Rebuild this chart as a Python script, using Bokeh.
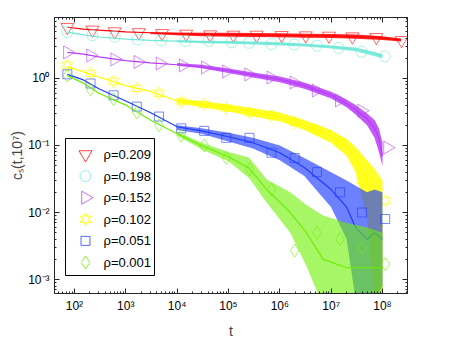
import math
from bokeh.plotting import figure
from bokeh.models import (FixedTicker, LogAxis, CustomJSTickFormatter, Range1d, ColumnDataSource)
from bokeh.core.properties import value
from bokeh.embed import file_html
from bokeh.resources import INLINE

# ---------------- data ----------------
labels = ["ρ=0.209", "ρ=0.198", "ρ=0.152", "ρ=0.102", "ρ=0.051", "ρ=0.001"]

# smooth trend of each curve
t_red = [73, 150, 300, 1e3, 3e3, 1e4, 3e4, 1e5, 3e5, 1e6, 3e6, 1e7, 2e7, 3e7, 5e7, 7e7, 1e8, 1.5e8, 2.3e8]
c_red = [5.8, 5.45, 5.25, 4.95, 4.8, 4.65, 4.55, 4.5, 4.45, 4.4, 4.35, 4.3, 4.25, 4.2, 4.15, 4.1, 4.0, 3.9, 3.75]
t_cyan = [73, 150, 300, 1e3, 3e3, 1e4, 3e4, 1e5, 3e5, 1e6, 3e6, 1e7, 2e7, 3e7, 5e7, 7e7, 1e8]
c_cyan = [4.9, 4.45, 4.15, 3.85, 3.7, 3.6, 3.5, 3.45, 3.38, 3.28, 3.15, 2.95, 2.82, 2.72, 2.55, 2.4, 2.15]
t_purple = [73, 150, 300, 1e3, 3e3, 1e4, 3e4, 1e5, 3e5, 1e6, 3e6, 1e7, 2e7, 3e7, 5e7, 7e7, 8.5e7, 1e8]
c_purple = [2.45, 2.3, 2.1, 1.84, 1.71, 1.6, 1.48, 1.3, 1.13, 0.97, 0.78, 0.56, 0.42, 0.34, 0.25, 0.18, 0.13, 0.07]
t_yellow = [73, 150, 300, 1e3, 3e3, 1e4, 3e4, 1e5, 3e5, 1e6, 3e6, 1e7, 2e7, 3e7, 5e7, 7e7, 1e8]
c_yellow = [1.5, 1.25, 1.05, 0.78, 0.64, 0.46, 0.41, 0.37, 0.31, 0.27, 0.2, 0.14, 0.095, 0.065, 0.03, 0.012, 0.006]
t_blue = [73, 150, 300, 1e3, 3e3, 1e4, 3e4, 1e5, 3e5, 1e6, 3e6, 1e7, 2e7, 3e7, 5e7, 7e7, 1e8]
c_blue = [1.15, 0.95, 0.7, 0.46, 0.31, 0.19, 0.165, 0.135, 0.11, 0.078, 0.047, 0.022, 0.012, 0.006, 0.004, 0.005, 0.004]
t_green = [73, 150, 300, 1e3, 3e3, 1e4, 3e4, 1e5, 2.5e5, 5.6e5, 1.6e6, 3.3e6, 7e6, 2e7, 5e7, 1e8]
c_green = [1.1, 0.85, 0.6, 0.4, 0.24, 0.15, 0.1, 0.068, 0.046, 0.022, 0.01, 0.005, 0.002, 0.0015, 0.0015, 0.0015]

# envelope of the fluctuations (noisy part)
tb_red = [3e3, 1e4, 3e4, 1e5, 3e5, 1e6, 3e6, 1e7, 3e7, 1e8, 2.3e8]
lo_red = [4.6, 4.4, 4.25, 4.2, 4.15, 4.1, 4.05, 4.0, 3.9, 3.75, 3.55]
hi_red = [4.9, 4.85, 4.8, 4.8, 4.75, 4.7, 4.65, 4.6, 4.5, 4.25, 3.95]
tb_cyan = [1e4, 3e4, 1e5, 3e5, 1e6, 3e6, 1e7, 3e7, 1e8]
lo_cyan = [3.45, 3.35, 3.3, 3.2, 3.1, 2.98, 2.8, 2.55, 2.0]
hi_cyan = [3.75, 3.65, 3.6, 3.55, 3.45, 3.32, 3.1, 2.88, 2.3]
tb_purple = [1e4, 3e4, 1e5, 3e5, 1e6, 3e6, 1e7, 2e7, 3e7, 5e7, 7e7, 8.5e7, 1e8]
lo_purple = [1.55, 1.42, 1.2, 1.03, 0.88, 0.7, 0.5, 0.37, 0.29, 0.2, 0.13, 0.08, 0.05]
hi_purple = [1.7, 1.6, 1.4, 1.23, 1.07, 0.87, 0.63, 0.48, 0.4, 0.3, 0.24, 0.18, 0.11]
tb_yellow = [1e4, 3e4, 1e5, 3e5, 1e6, 3e6, 1e7, 2e7, 3e7, 5e7, 7e7, 1e8]
lo_yellow = [0.43, 0.37, 0.32, 0.27, 0.23, 0.17, 0.11, 0.07, 0.04, 0.008, 0.0005, 0.0005]
hi_yellow = [0.5, 0.46, 0.41, 0.36, 0.31, 0.24, 0.17, 0.125, 0.095, 0.06, 0.045, 0.03]
tb_blue = [1e4, 3e4, 1e5, 3e5, 1e6, 3e6, 1e7, 2e7, 3e7, 5e7, 7e7, 1e8]
lo_blue = [0.17, 0.15, 0.115, 0.09, 0.06, 0.035, 0.012, 0.004, 0.0005, 0.0005, 0.0005, 0.0008]
hi_blue = [0.2, 0.18, 0.155, 0.13, 0.1, 0.065, 0.04, 0.03, 0.025, 0.02, 0.022, 0.02]
tb_green = [1e4, 3e4, 1e5, 2.5e5, 5.6e5, 1.6e6, 3.3e6, 7e6, 2e7, 5e7, 1e8]
lo_green = [0.14, 0.088, 0.058, 0.033, 0.014, 0.005, 0.0016, 0.0004, 0.0004, 0.0004, 0.0004]
hi_green = [0.16, 0.11, 0.08, 0.066, 0.031, 0.02, 0.013, 0.009, 0.007, 0.006, 0.005]

# open markers
tm_red = [73, 225, 610, 1800, 5100, 15000, 44000, 125000, 354000, 1.09e6, 3.2e6, 9.1e6, 2.6e7, 7.6e7, 2.36e8]
cm_red = [5.8, 5.3, 5.0, 4.85, 4.7, 4.6, 4.5, 4.45, 4.45, 4.4, 4.35, 4.3, 4.2, 4.1, 3.7]
tm_cyan = [73, 225, 610, 1700, 4900, 14500, 41000, 115000, 250000, 690000, 1.9e6, 5.3e6, 1.4e7, 3.9e7, 1.1e8]
cm_cyan = [4.9, 4.4, 4.2, 3.8, 3.7, 3.6, 3.6, 3.45, 3.4, 3.25, 3.2, 3.07, 2.85, 2.5, 2.13]
tm_purple = [73, 206, 608, 1720, 4640, 13100, 35400, 91400, 247000, 667000, 1.88e6, 5.1e6, 1.44e7, 3.9e7, 1.25e8]
cm_purple = [2.44, 2.2, 1.92, 1.76, 1.67, 1.56, 1.46, 1.27, 1.15, 1.03, 0.87, 0.66, 0.47, 0.33, 0.093]
tm_yellow = [73, 206, 580, 1640, 4440, 12000, 33800, 91000, 257000, 690000, 1.95e6, 5.3e6, 1.49e7, 4.0e7, 1.13e8]
cm_yellow = [1.56, 1.19, 0.90, 0.71, 0.60, 0.45, 0.41, 0.36, 0.31, 0.28, 0.22, 0.17, 0.11, 0.03, 0.015]
tm_blue = [73, 206, 580, 1640, 4440, 12000, 33800, 91000, 257000, 690000, 1.95e6, 5.3e6, 1.49e7, 4.0e7, 1.13e8]
cm_blue = [1.15, 0.84, 0.56, 0.38, 0.27, 0.18, 0.165, 0.13, 0.13, 0.078, 0.065, 0.04, 0.02, 0.01, 0.008]
tm_green = [73, 206, 580, 1640, 4440, 12000, 33800, 91000, 257000, 690000, 1.95e6, 5.3e6, 1.49e7, 4.0e7, 1.13e8]
cm_green = [1.1, 0.68, 0.49, 0.31, 0.2, 0.14, 0.1, 0.065, 0.044, 0.022, 0.0027, 0.005, 0.004, 0.003, 0.0017]

x_major = [1e2, 1e3, 1e4, 1e5, 1e6, 1e7, 1e8]
y_major = [1e-3, 1e-2, 1e-1, 1e0]

# ---------------- styles ----------------
colors = ["#ff0000", "#6fe8d6", "#b83cf8", "#ffff00", "#1f3cff", "#6cf000"]
band_alpha = [0.85, 0.85, 0.85, 0.85, 0.65, 0.6]
FONT = "Liberation Sans"
X0, X1 = 41, 3.07e8
Y0, Y1 = 6.2e-4, 8.1
FW, FH = 353, 276

p = figure(frame_width=FW, frame_height=FH, x_axis_type="log", y_axis_type="log",
           x_range=Range1d(X0, X1), y_range=Range1d(Y0, Y1),
           output_backend="svg", toolbar_location=None,
           min_border_left=54, min_border_right=43, min_border_top=17, min_border_bottom=39)
p.grid.visible = False
p.outline_line_color = "#262626"
p.background_fill_color = "white"
p.border_fill_color = "white"

xb = p.below[0]
yl = p.left[0]

x_minor = [m * 10.0 ** e for e in range(1, 9) for m in range(2, 10)]
y_minor = [m * 10.0 ** e for e in range(-4, 1) for m in range(2, 10)]
xt = FixedTicker(ticks=x_major, minor_ticks=x_minor)
yt = FixedTicker(ticks=y_major, minor_ticks=y_minor)

sup_code = """
const m = {'-':'\u207b','0':'\u2070','1':'\u00b9','2':'\u00b2','3':'\u00b3','4':'\u2074','5':'\u2075','6':'\u2076','7':'\u2077','8':'\u2078','9':'\u2079'};
const e = Math.round(Math.log10(tick));
return '10' + String(e).split('').map(c => m[c]).join('');
"""

def style_axis(ax, ticker, show_labels):
    ax.ticker = ticker
    ax.axis_line_color = "#262626"
    ax.major_tick_line_color = "#262626"
    ax.minor_tick_line_color = "#262626"
    ax.major_tick_in = 5
    ax.major_tick_out = 0
    ax.minor_tick_in = 2
    ax.minor_tick_out = 0
    ax.major_label_text_font = FONT
    ax.major_label_text_font_size = "12px"
    ax.major_label_text_color = "black"
    ax.major_label_standoff = 5
    if show_labels:
        ax.formatter = CustomJSTickFormatter(code=sup_code)
    else:
        ax.formatter = CustomJSTickFormatter(code="return ''")
        ax.major_label_standoff = 0

style_axis(xb, xt, True)
style_axis(yl, yt, True)
top = LogAxis()
right = LogAxis()
style_axis(top, xt, False)
style_axis(right, yt, False)
p.add_layout(top, "above")
p.add_layout(right, "right")

xb.axis_label = "t"
yl.axis_label = "cₛ(t,10⁷)"
for ax in (xb, yl):
    ax.axis_label_text_font = FONT
    ax.axis_label_text_font_size = "14px"
    ax.axis_label_text_font_style = "normal"
xb.axis_label_standoff = 7
yl.axis_label_standoff = 0

series = [
    (t_red, c_red, tb_red, lo_red, hi_red, tm_red, cm_red),
    (t_cyan, c_cyan, tb_cyan, lo_cyan, hi_cyan, tm_cyan, cm_cyan),
    (t_purple, c_purple, tb_purple, lo_purple, hi_purple, tm_purple, cm_purple),
    (t_yellow, c_yellow, tb_yellow, lo_yellow, hi_yellow, tm_yellow, cm_yellow),
    (t_blue, c_blue, tb_blue, lo_blue, hi_blue, tm_blue, cm_blue),
    (t_green, c_green, tb_green, lo_green, hi_green, tm_green, cm_green),
]

def draw_markers(i, xs, ys, alpha):
    col = colors[i]
    src = ColumnDataSource(dict(t=xs, c=ys))
    common = dict(source=src, fill_color=None, line_color=col, line_alpha=alpha, line_width=1)
    if i == 0:
        p.scatter("t", "c", marker="inverted_triangle", size=13, **common)
    elif i == 1:
        p.scatter("t", "c", marker="circle", size=11, **common)
    elif i == 2:
        p.scatter("t", "c", marker="triangle", size=13, angle=-math.pi / 2, **common)
    elif i == 3:
        p.scatter("t", "c", marker="triangle", size=11, **common)
        p.scatter("t", "c", marker="inverted_triangle", size=11, **common)
    elif i == 4:
        p.scatter("t", "c", marker="square", size=9, **common)
    else:
        p.scatter("t", "c", marker="diamond", size=13, **common)

for i, (t, c, tb, lo, hi, tm, cm) in enumerate(series):
    col = colors[i]
    draw_markers(i, tm, cm, 0.6)
    p.varea(x=tb, y1=lo, y2=hi, fill_color=col, fill_alpha=band_alpha[i])
    p.line(t, c, line_color=col, line_width=1.2)

# ---------------- legend (drawn by hand so the markers keep their shape) ----------------
def fx(px):  # pixel offset from frame left -> data x
    return 10 ** (math.log10(X0) + px / FW * (math.log10(X1) - math.log10(X0)))

def fy(py):  # pixel offset from frame top -> data y
    return 10 ** (math.log10(Y1) - py / FH * (math.log10(Y1) - math.log10(Y0)))

box_l, box_r, box_t, box_b = 11, 100, 121, 258
p.quad(left=[fx(box_l)], right=[fx(box_r)], top=[fy(box_t)], bottom=[fy(box_b)],
       fill_color="white", line_color="black", line_width=1)
row0, row_step, mk_x, txt_x = 137, 21.6, 31, 49
for i in range(len(labels)):
    yy = fy(row0 + i * row_step)
    draw_markers(i, [fx(mk_x)], [yy], 0.75)
p.text(x=[fx(txt_x)] * len(labels), y=[fy(row0 + i * row_step) for i in range(len(labels))],
       text=labels, text_font=value(FONT), text_font_size="13px",
       text_baseline="middle", text_align="left", text_color="black")

open("out.html", "w").write(file_html(p, INLINE))
